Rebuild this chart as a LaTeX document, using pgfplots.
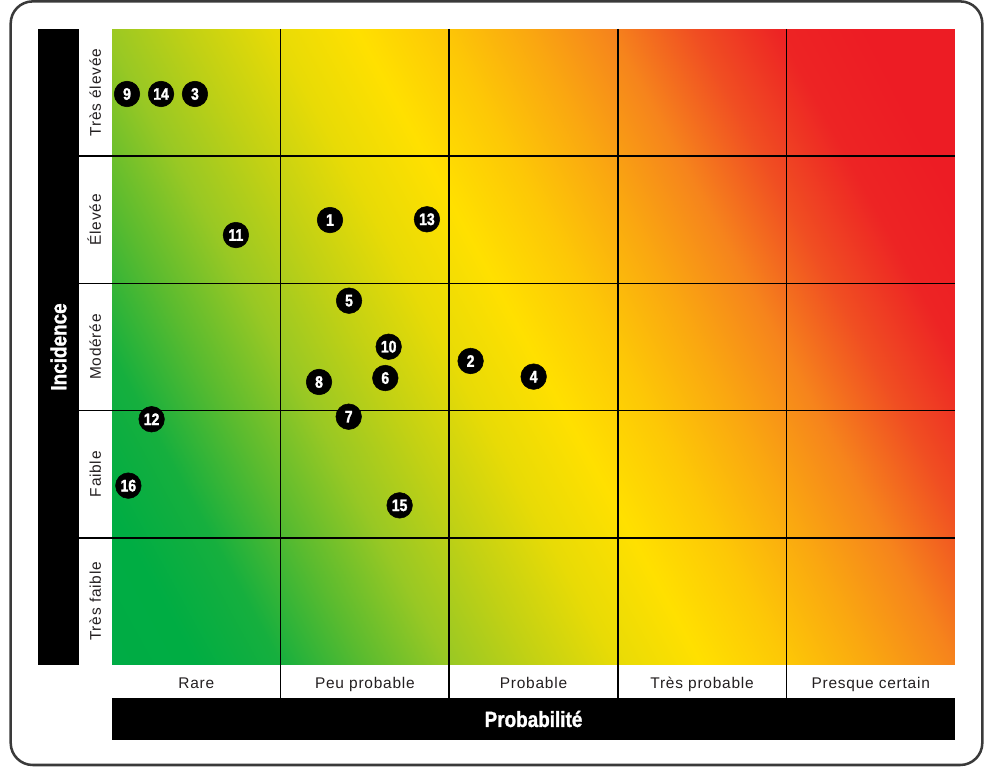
\documentclass[border=0pt]{standalone}
\usepackage{fontspec}
\setmainfont{Liberation Sans}
\newfontfamily\cond{Liberation Sans Bold}[FakeStretch=0.86, FakeBold=1.2]
\newfontfamily\numf{Liberation Sans Bold}[FakeStretch=0.84, FakeBold=1.6]
\newfontfamily\lab{Liberation Sans}[LetterSpace=5]
\usepackage{pgfplots}
\pgfplotsset{compat=1.18}
\definecolor{framecol}{RGB}{58,58,58}
\definecolor{labcol}{RGB}{35,31,32}
\begin{document}
\begin{tikzpicture}
\begin{axis}[
  at={(0,0)}, anchor=south west,
  scale only axis, width=632.25pt, height=477pt,
  xmin=0, xmax=5, ymin=0, ymax=5,
  clip=false,
  axis line style={draw=none},
  major tick length=0pt,
  xtick={0.5,1.5,2.5,3.5,4.5},
  xticklabels={Rare, Peu probable, Probable, Très probable, Presque certain},
  ytick={0.5,1.5,2.5,3.5,4.5},
  yticklabels={Très faible, Faible, Modérée, Élevée, Très élevée},
  xticklabel style={anchor=center, yshift=-13.35pt, text height=8.3pt, text depth=0pt, inner sep=0pt, font=\lab\fontsize{11.6}{13}\selectfont, text=labcol},
  yticklabel style={anchor=center, xshift=-12.4pt, rotate=90, text height=8.3pt, text depth=0pt, inner sep=0pt, font=\lab\fontsize{11.6}{13}\selectfont, text=labcol},
  colormap={risk}{
    rgb255(0cm)=(0,172,69) rgb255(0.5cm)=(0,173,67) rgb255(1cm)=(22,175,62)
    rgb255(1.5cm)=(90,187,47) rgb255(2cm)=(152,200,36) rgb255(2.5cm)=(194,209,20)
    rgb255(3cm)=(232,219,6) rgb255(3.5cm)=(255,224,0) rgb255(4cm)=(253,200,6)
    rgb255(4.5cm)=(250,168,16) rgb255(5cm)=(246,132,28) rgb255(5.5cm)=(240,78,34)
    rgb255(6cm)=(237,36,36) rgb255(6.5cm)=(237,28,36) rgb255(7cm)=(237,28,36)},
  point meta min=0, point meta max=7,
]
% background risk gradient (risk level at cell corners)
\addplot[surf, shader=interp, mesh/cols=6, point meta=explicit] table[meta=v] {
x y v
0 0 0
1 0 1
2 0 2
3 0 3
4 0 4
5 0 5
0 1 0.41
1 1 1.41
2 1 2.41
3 1 3.41
4 1 4.41
5 1 5.41
0 2 0.82
1 2 1.82
2 2 2.82
3 2 3.82
4 2 4.82
5 2 5.82
0 3 1.23
1 3 2.23
2 3 3.23
3 3 4.23
4 3 5.23
5 3 6.23
0 4 1.64
1 4 2.64
2 4 3.64
3 4 4.64
4 4 5.64
5 4 6.64
0 5 2.05
1 5 3.05
2 5 4.05
3 5 5.05
4 5 6.05
5 5 7.05
};
% grid lines
\draw[line width=1.15pt, black] (axis cs:-0.1957,1) -- (axis cs:5,1);
\draw[line width=1.15pt, black] (axis cs:-0.1957,2) -- (axis cs:5,2);
\draw[line width=1.15pt, black] (axis cs:-0.1957,3) -- (axis cs:5,3);
\draw[line width=1.15pt, black] (axis cs:-0.1957,4) -- (axis cs:5,4);
\draw[line width=1.15pt, black] (axis cs:1,5) -- (axis cs:1,-0.2594);
\draw[line width=1.15pt, black] (axis cs:2,5) -- (axis cs:2,-0.2594);
\draw[line width=1.15pt, black] (axis cs:3,5) -- (axis cs:3,-0.2594);
\draw[line width=1.15pt, black] (axis cs:4,5) -- (axis cs:4,-0.2594);
% risks
\addplot[only marks, mark=*, mark size=9.6pt, mark options={fill=black, draw=black}, black,
  point meta=explicit symbolic, nodes near coords,
  every node near coord/.append style={anchor=center, text=white, inner sep=0pt,
    font=\numf\fontsize{12.5}{13}\selectfont}]
  table[meta=label] {
x y label
0.089 4.489 9
0.291 4.489 14
0.492 4.489 3
0.735 3.380 11
1.293 3.498 1
1.868 3.504 13
1.406 2.864 5
1.641 2.502 10
2.127 2.390 2
2.501 2.267 4
1.228 2.225 8
1.621 2.256 6
1.404 1.952 7
0.235 1.932 12
0.097 1.410 16
1.706 1.255 15
};
\end{axis}
\begin{scope}[x=0.75pt, y=-0.75pt, shift={(-84pt,498.75pt)}]
  \path (0,0) rectangle (990,767);
  \draw[line width=1.9pt, framecol, rounded corners=16.5pt] (10.7,1.4) rectangle (982.3,765);
  \fill[black] (38,29) rectangle (79,665);
  \node[rotate=90, text=white, inner sep=0pt, font=\cond\fontsize{16.5}{18}\selectfont] at (58.5,347) {Incidence};
  \fill[black] (112,698) rectangle (955,740);
  \node[text=white, inner sep=0pt, font=\cond\fontsize{16.5}{18}\selectfont] at (533.5,719) {Probabilité};
\end{scope}
\end{tikzpicture}
\end{document}
